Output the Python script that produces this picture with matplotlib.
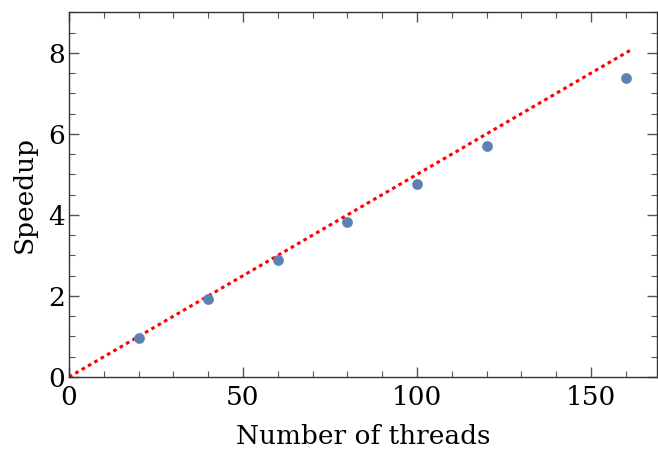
import matplotlib
matplotlib.use("Agg")
import matplotlib.pyplot as plt
from matplotlib.ticker import MultipleLocator
import numpy as np

threads = [20, 40, 60, 80, 100, 120, 160]
speedup = [0.96, 1.93, 2.89, 3.83, 4.77, 5.70, 7.38]
ideal_x = [0, 161.5]
ideal_slope = 1 / 20

plt.rcParams['font.family'] = ['DejaVu Serif']

fig = plt.figure(figsize=(6.58, 4.55), dpi=100)
ax = fig.add_axes([69/658, 1 - 377/455, (657-69)/658, (377-12)/455])

ax.plot(ideal_x, [v * ideal_slope for v in ideal_x], color='red', lw=2.2,
        linestyle=(0, (1.2, 1.2)), zorder=2)
ax.scatter(threads, speedup, s=60, color='#5E81B5', zorder=3, linewidths=0)

ax.set_xlim(0, 169)
ax.set_ylim(0, 9.01)
ax.xaxis.set_major_locator(MultipleLocator(50))
ax.xaxis.set_minor_locator(MultipleLocator(10))
ax.yaxis.set_major_locator(MultipleLocator(2))
ax.yaxis.set_minor_locator(MultipleLocator(0.5))
ax.tick_params(which='both', direction='in', top=True, right=True, color='#555555', labelsize=19)
ax.tick_params(axis='x', pad=6)
ax.tick_params(axis='y', pad=3)
ax.tick_params(which='major', length=7, width=1)
ax.tick_params(which='minor', length=4, width=0.8)
for s in ax.spines.values():
    s.set_color('#333333')
    s.set_linewidth(1)

ax.set_xlabel('Number of threads', fontsize=19, labelpad=10)
ax.set_ylabel('Speedup', fontsize=19, labelpad=8)

fig.savefig('out.png', dpi=100)
